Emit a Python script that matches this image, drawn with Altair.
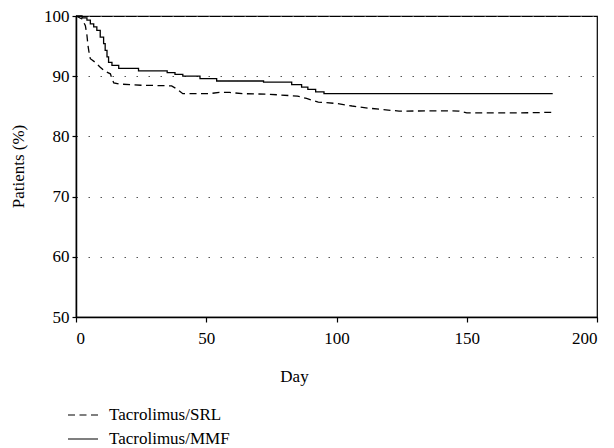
import altair as alt
import pandas as pd

srl_day = [0, 2.3, 3.6, 4.2, 4.6, 5.1, 5.5, 7.4, 9.3, 11.2, 13.2, 13.8, 14.5, 16.4, 25, 36.7, 39, 41, 51, 55, 59, 64, 74, 85, 88.5, 93, 100.5, 106, 112, 118, 124, 142, 147, 150, 170, 183]
srl_pct = [100, 99.5, 98.4, 96.8, 95.1, 93.7, 92.9, 92.3, 91.5, 90.8, 90.4, 89.6, 88.9, 88.7, 88.5, 88.4, 87.8, 87.1, 87.1, 87.3, 87.3, 87.1, 87.0, 86.7, 86.3, 85.7, 85.45, 85.05, 84.7, 84.45, 84.2, 84.25, 84.2, 83.9, 83.9, 84.0]

mmf_day = [0, 2.3, 4.2, 5.5, 6.8, 8.0, 9.3, 10.6, 11.2, 11.9, 12.5, 13.8, 16.4, 24, 35, 38, 41, 47.6, 54, 72, 82.8, 86.6, 89, 92, 95.2, 183]
mmf_pct = [100, 99.7, 99.3, 98.7, 98.2, 97.6, 96.5, 95.4, 94.3, 93.2, 92.3, 91.8, 91.3, 90.9, 90.6, 90.3, 90.0, 89.6, 89.2, 89.0, 88.6, 88.2, 87.8, 87.4, 87.1, 87.1]

groups = ["Tacrolimus/SRL", "Tacrolimus/MMF"]
x_ticks = [0, 50, 100, 150, 200]
y_ticks = [50, 60, 70, 80, 90, 100]

srl = pd.DataFrame({"day": srl_day, "pct": srl_pct, "group": groups[0]})
mmf = pd.DataFrame({"day": mmf_day, "pct": mmf_pct, "group": groups[1]})

FONT = "Liberation Serif"

x = alt.X("day:Q", scale=alt.Scale(domain=[0, 200], nice=False, zero=False),
          axis=alt.Axis(values=x_ticks, title="Day", grid=False, tickSize=5,
                        labelPadding=8, titleX=218, titleY=64,
                        titleBaseline="alphabetic", titleAlign="center"))
y = alt.Y("pct:Q", scale=alt.Scale(domain=[50, 100], nice=False, zero=False),
          axis=alt.Axis(values=y_ticks, title="Patients (%)", grid=True,
                        gridDash=[1.5, 10.5], gridColor="#555", gridWidth=1,
                        tickSize=4, labelPadding=3, titleX=-58, titleY=150,
                        titleAngle=-90, titleBaseline="middle", titleAlign="center"))

dash = alt.StrokeDash("group:N",
                      scale=alt.Scale(domain=groups, range=[[7, 4.5], [1, 0]]),
                      legend=alt.Legend(title=None, orient="none", legendX=-9, legendY=383,
                                        symbolType="stroke", symbolSize=900,
                                        symbolStrokeColor="black", symbolStrokeWidth=1.2,
                                        labelOffset=10, rowPadding=-4, padding=0,
                                        labelFontSize=17, labelFont=FONT, labelColor="black"))

l1 = alt.Chart(srl).mark_line(color="black", strokeWidth=1.3).encode(x=x, y=y, strokeDash=dash)
l2 = alt.Chart(mmf).mark_line(color="black", strokeWidth=1.3, interpolate="step-after").encode(x=x, y=y, strokeDash=dash)

chart = alt.layer(l1, l2).properties(
    width=521, height=301,
    background="white",
    autosize=alt.AutoSizeParams(type="none"),
    padding={"left": 68, "top": 8, "right": 9, "bottom": 131},
).configure_view(stroke="black", strokeWidth=1.2).configure_axis(
    domainColor="black", domainWidth=1.5, tickColor="black", tickWidth=1.2,
    labelFont=FONT, labelFontSize=17, labelColor="black",
    titleFont=FONT, titleFontSize=17, titleColor="black", titleFontWeight="normal",
)

chart.save("out.html", embed_options={"renderer": "svg", "actions": False})
